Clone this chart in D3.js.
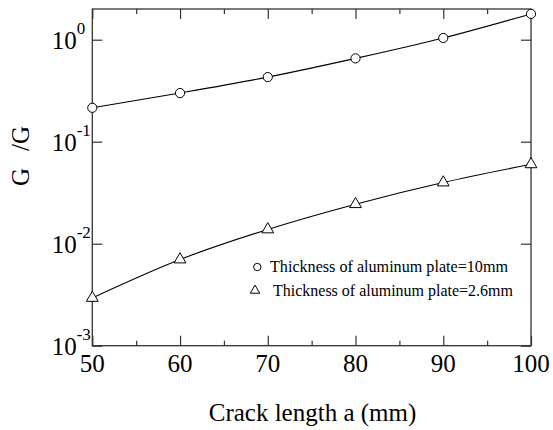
<!DOCTYPE html>
<html>
<head>
<meta charset="utf-8">
<script src="https://cdn.jsdelivr.net/npm/d3@7"></script>
<style>
  html, body { margin: 0; padding: 0; background: #fff; }
  svg text { font-family: "Liberation Serif", "Times New Roman", Times, "DejaVu Serif", serif; }
</style>
</head>
<body>
<svg id="chart" width="553" height="430"></svg>
<script>
// Crack length (mm)
const crackLength = [50, 60, 70, 80, 90, 100];
// Energy release rate ratio, 10 mm aluminum plate
const ratio10mm = [0.215, 0.30, 0.43, 0.656, 1.04, 1.79];
// Energy release rate ratio, 2.6 mm aluminum plate
const ratio26mm = [0.00294, 0.0070, 0.0138, 0.0244, 0.0398, 0.060];

const xMajorTicks = [50, 60, 70, 80, 90, 100];
const xMinorTicks = [55, 65, 75, 85, 95];
const yTicks = [1e-3, 1e-2, 1e-1, 1e0];
const yTickExponents = ["-3", "-2", "-1", "0"];

const legendLabels = [
  "Thickness of aluminum plate=10mm",
  "Thickness of aluminum plate=2.6mm"
];

const serif = "'Liberation Serif', 'Times New Roman', Times, 'DejaVu Serif', serif";

const margin = { left: 92.3, right: 22, top: 9, bottom: 84.3 };
const W = 553, H = 430;
const innerW = W - margin.left - margin.right;
const innerH = H - margin.top - margin.bottom;

const svg = d3.select("#chart");
const g = svg.append("g").attr("transform", `translate(${margin.left},${margin.top})`);

const x = d3.scaleLinear().domain([50, 100]).range([0, innerW]);
const y = d3.scaleLog().domain([1e-3, 2]).range([innerH, 0]);

const axisColor = "#333";

// Major and minor ticks on bottom and top, pointing inward
function xTicks(axisFn, values, len, yPos) {
  const a = g.append("g")
    .attr("transform", `translate(0,${yPos})`)
    .call(axisFn(x).tickValues(values).tickSize(len).tickFormat(""));
  a.select(".domain").remove();
  a.selectAll(".tick line").attr("stroke", axisColor).attr("stroke-width", 1.2);
}
xTicks(d3.axisBottom, xMajorTicks, -10, innerH);
xTicks(d3.axisBottom, xMinorTicks, -5, innerH);
xTicks(d3.axisTop, xMajorTicks, -10, 0);
xTicks(d3.axisTop, xMinorTicks, -5, 0);

function yTickLines(axisFn, xPos) {
  const a = g.append("g")
    .attr("transform", `translate(${xPos},0)`)
    .call(axisFn(y).tickValues(yTicks).tickSize(-10).tickFormat(""));
  a.select(".domain").remove();
  a.selectAll(".tick line").attr("stroke", axisColor).attr("stroke-width", 1.2);
}
yTickLines(d3.axisLeft, 0);
yTickLines(d3.axisRight, innerW);

// Frame
g.append("rect")
  .attr("x", 0).attr("y", 0)
  .attr("width", innerW).attr("height", innerH)
  .attr("fill", "none").attr("stroke", axisColor).attr("stroke-width", 1.3);

// X tick labels
g.selectAll(".xlabel")
  .data(xMajorTicks)
  .join("text")
  .attr("x", d => x(d))
  .attr("y", innerH + 26)
  .attr("text-anchor", "middle")
  .attr("font-family", serif)
  .attr("font-size", 25)
  .attr("fill", "#000")
  .text(d => d);

// Y tick labels as 10 with superscript exponent
const yl = g.selectAll(".ylabel")
  .data(yTicks)
  .join("text")
  .attr("x", -40.6)
  .attr("y", d => y(d) + 9)
  .attr("text-anchor", "start")
  .attr("font-family", serif)
  .attr("font-size", 25)
  .attr("fill", "#000");
yl.append("tspan").text("10");
yl.append("tspan")
  .attr("font-size", 17)
  .attr("dy", -14.5)
  .text((d, i) => yTickExponents[i]);

// Curves
const line = d3.line()
  .x(d => x(d[0]))
  .y(d => y(d[1]))
  .curve(d3.curveMonotoneX);

const series = [
  { values: ratio10mm, marker: "circle" },
  { values: ratio26mm, marker: "triangle" }
];

series.forEach(s => {
  const pts = crackLength.map((c, i) => [c, s.values[i]]);
  g.append("path")
    .datum(pts)
    .attr("d", line)
    .attr("fill", "none")
    .attr("stroke", "#000")
    .attr("stroke-width", 1.1);
});

const triSym = d3.symbol().type(d3.symbolTriangle);

function drawMarker(sel, type, cx, cy, scale) {
  if (type === "circle") {
    sel.append("circle")
      .attr("cx", cx).attr("cy", cy).attr("r", 4.6 * scale)
      .attr("fill", "#fff").attr("stroke", "#000").attr("stroke-width", 1);
  } else {
    sel.append("path")
      .attr("d", triSym.size(60 * scale * scale)())
      .attr("transform", `translate(${cx},${cy})`)
      .attr("fill", "#fff").attr("stroke", "#000").attr("stroke-width", 1);
  }
}

series.forEach(s => {
  crackLength.forEach((c, i) => {
    drawMarker(g, s.marker, x(c), y(s.values[i]), 1);
  });
});

// Legend
const legendRows = [
  { marker: "circle", mx: 257.3, my: 267, tx: 270, ty: 272, len: 238 },
  { marker: "triangle", mx: 255, my: 290.5, tx: 273, ty: 295.5, len: 240 }
];
legendRows.forEach((r, i) => {
  drawMarker(svg, r.marker, r.mx, r.my, 0.8);
  svg.append("text")
    .attr("x", r.tx).attr("y", r.ty)
    .attr("font-family", serif)
    .attr("font-size", 16.5)
    .attr("textLength", r.len)
    .attr("lengthAdjust", "spacingAndGlyphs")
    .attr("fill", "#000")
    .text(legendLabels[i]);
});

// Axis titles
svg.append("text")
  .attr("x", 312.5).attr("y", 420.5)
  .attr("text-anchor", "middle")
  .attr("font-family", serif)
  .attr("font-size", 25)
  .attr("fill", "#000")
  .text("Crack length a (mm)");

const yTitle = svg.append("text")
  .attr("transform", "translate(29,186) rotate(-90)")
  .attr("text-anchor", "start")
  .attr("font-family", serif)
  .attr("font-size", 25)
  .attr("fill", "#000");
yTitle.append("tspan").text("G");
yTitle.append("tspan").attr("dx", 17).text("/G");
</script>
</body>
</html>
